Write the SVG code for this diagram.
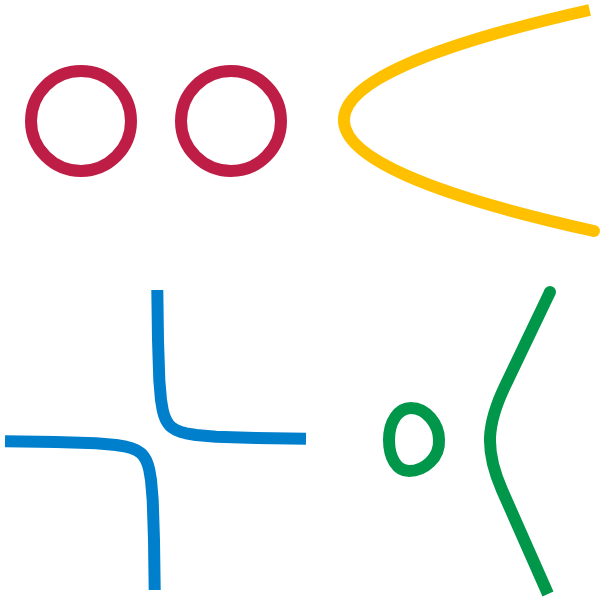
<svg xmlns="http://www.w3.org/2000/svg" width="600" height="600" viewBox="0 0 600 600">
<style>
.c{fill:none;stroke-width:12;stroke-linejoin:round}
.red{stroke:#BE1E46}
.yel{stroke:#FFC000}
.blu{stroke:#0080CC}
.grn{stroke:#00974A}
</style>
<rect width="600" height="600" fill="#fff"/>
<g id="circle-left"><circle class="c red" cx="81" cy="121" r="50"/></g>
<g id="circle-right"><circle class="c red" cx="231" cy="121" r="50"/></g>
<g id="parabola"><path class="c yel" d="M589.6,10 Q96,120.5 594,231"/><circle cx="594" cy="231" r="6" fill="#FFC000"/></g>
<g id="hyperbola">
<path class="c blu" d="M157.3,290 L158,340 L159.3,380 L161,400 L162.7,410 L164,415 L166,420 L168.5,424 L170.1,425.9 L172,427.5 L176,430 L181,432 L186,433.3 L196,435 L216,436.7 L256,438 L306,438.7"/>
<path class="c blu" d="M154.7,590 L154,540 L152.7,500 L151,480 L149.3,470 L148,465 L146,460 L143.5,456 L141.9,454.1 L140,452.5 L136,450 L131,448 L126,446.7 L116,445 L96,443.3 L56,442 L5,441.3"/>
</g>
<g id="elliptic">
<path class="c grn" d="M411,408 C426,408 439,424 439,440 C440,458 424,471 409,471 C397,471 389,458 389,440 C389,422 398,408 411,408 Z"/>
<path class="c grn" d="M550,292 L506,384 C486.4,424 484.4,450 502,490 L548,594"/>
<circle cx="550" cy="292" r="6" fill="#00974A"/>
</g>
</svg>
